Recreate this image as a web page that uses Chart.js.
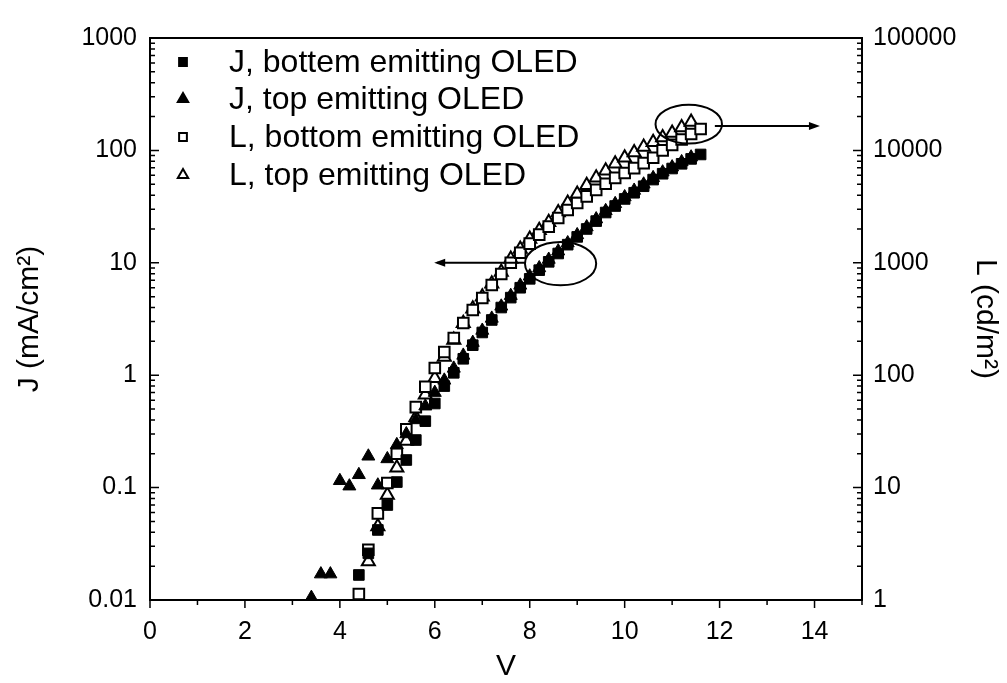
<!DOCTYPE html>
<html>
<head>
<meta charset="utf-8">
<script src="https://cdn.jsdelivr.net/npm/chart.js@4.4.0/dist/chart.umd.min.js"></script>
<style>
html,body{margin:0;padding:0;background:#fff;}
#wrap{width:1007px;height:683px;position:relative;}
</style>
</head>
<body>
<div id="wrap"><canvas id="myChart"></canvas></div>
<script>
// J (mA/cm2), bottom emitting
var vJBottom = [4.4,4.6,4.8,5.0,5.2,5.4,5.6,5.8,6.0,6.2,6.4,6.6,6.8,7.0,7.2,7.4,7.6,7.8,8.0,8.2,8.4,8.6,8.8,9.0,9.2,9.4,9.6,9.8,10.0,10.2,10.4,10.6,10.8,11.0,11.2,11.4,11.6];
var jBottom = [0.0167,0.026,0.042,0.07,0.112,0.176,0.265,0.39,0.56,0.8,1.05,1.4,1.85,2.4,3.1,4.0,4.9,6.0,7.2,8.6,10.2,12.1,14.5,17,20,23.5,28,32,37,42,48,55,62,69,76,84,92];

// J (mA/cm2), top emitting
var vJTop = [3.4,3.6,3.8,4.0,4.2,4.4,4.6,4.8,5.0,5.2,5.4,5.6,5.8,6.0,6.2,6.4,6.6,6.8,7.0,7.2,7.4,7.6,7.8,8.0,8.2,8.4,8.6,8.8,9.0,9.2,9.4,9.6,9.8,10.0,10.2,10.4,10.6,10.8,11.0,11.2,11.4];
var jTop = [0.0105,0.017,0.017,0.115,0.103,0.13,0.19,0.105,0.18,0.24,0.3,0.4,0.53,0.7,0.9,1.15,1.5,1.95,2.5,3.2,4.1,5.1,6.3,7.6,9.0,10.7,12.7,15,17.7,20.8,24.5,29,33.5,38.5,44,50,57,64,71,79,87];

// L (cd/m2), bottom emitting
var vLBottom = [4.4,4.6,4.8,5.0,5.2,5.4,5.6,5.8,6.0,6.2,6.4,6.6,6.8,7.0,7.2,7.4,7.6,7.8,8.0,8.2,8.4,8.6,8.8,9.0,9.2,9.4,9.6,9.8,10.0,10.2,10.4,10.6,10.8,11.0,11.2,11.4,11.6];
var lBottom = [1.13,2.8,5.9,11,20,33,52,79,116,161,214,291,380,486,634,794,1000,1230,1480,1780,2100,2500,2950,3400,3900,4450,5050,5700,6300,6950,7700,8600,10000,11200,12500,14000,15500];

// L (cd/m2), top emitting
var vLTop = [4.6,4.8,5.0,5.2,5.4,5.6,5.8,6.0,6.2,6.4,6.6,6.8,7.0,7.2,7.4,7.6,7.8,8.0,8.2,8.4,8.6,8.8,9.0,9.2,9.4,9.6,9.8,10.0,10.2,10.4,10.6,10.8,11.0,11.2,11.4];
var lTop = [2.2,4.5,8.6,15,26,42,67,94,145,206,290,390,500,650,830,1080,1330,1630,1950,2300,2800,3400,4100,4900,5700,6600,7600,8600,9600,10700,11800,13000,14300,16000,17900];

var legendLabels = ['J, bottem emitting OLED','J, top emitting OLED','L, bottom emitting OLED','L, top emitting OLED'];
var xTicks = [0,2,4,6,8,10,12,14];
var jTicks = [0.01,0.1,1,10,100,1000];
var jTickLabels = ['0.01','0.1','1','10','100','1000'];
var lTicks = [1,10,100,1000,10000,100000];
var lTickLabels = ['1','10','100','1000','10000','100000'];

function pts(xs, ys){
  var out = [];
  for (var i = 0; i < xs.length; i++) out.push({x: xs[i], y: ys[i]});
  return out;
}

var FONT = 'Liberation Sans, Arial, sans-serif';

// frame, ticks, arrows, legend
var decor = {
  id: 'decor',
  afterDatasetsDraw: function(chart){
    var ctx = chart.ctx;
    var a = chart.chartArea;
    var sx = chart.scales.x, sy = chart.scales.y, sy2 = chart.scales.y2;
    ctx.save();
    ctx.strokeStyle = '#000';
    ctx.lineWidth = 2;
    ctx.strokeRect(a.left, a.top, a.right - a.left, a.bottom - a.top);

    ctx.lineWidth = 1.5;
    ctx.beginPath();
    // x ticks (down)
    for (var v = 0; v <= 15; v++) {
      var px = sx.getPixelForValue(v);
      var len = (v % 2 == 0) ? 8 : 5;
      ctx.moveTo(px, a.bottom); ctx.lineTo(px, a.bottom + len);
    }
    // log ticks, inward
    for (var d = -2; d <= 3; d++) {
      for (var m = 1; m <= 9; m++) {
        var val = m * Math.pow(10, d);
        if (val > 1000.0001) break;
        var py = sy.getPixelForValue(val);
        var l = (m == 1) ? 9 : 5;
        ctx.moveTo(a.left, py); ctx.lineTo(a.left + l, py);
        var py2 = sy2.getPixelForValue(val * 100);
        ctx.moveTo(a.right, py2); ctx.lineTo(a.right - l, py2);
      }
    }
    ctx.stroke();

    // ellipses + arrows
    ctx.lineWidth = 2;
    function ell(x1, x2, y1, y2){
      var X1 = sx.getPixelForValue(x1), X2 = sx.getPixelForValue(x2);
      var Y1 = sy.getPixelForValue(y1), Y2 = sy.getPixelForValue(y2);
      ctx.beginPath();
      ctx.ellipse((X1+X2)/2, (Y1+Y2)/2, Math.abs(X2-X1)/2, Math.abs(Y2-Y1)/2, 0, 0, Math.PI*2);
      ctx.stroke();
    }
    function arrow(x1, x2, yv){
      var X1 = sx.getPixelForValue(x1), X2 = sx.getPixelForValue(x2), Y = sy.getPixelForValue(yv);
      ctx.beginPath(); ctx.moveTo(X1, Y); ctx.lineTo(X2, Y); ctx.stroke();
      var dir = X2 > X1 ? 1 : -1;
      ctx.beginPath();
      ctx.moveTo(X2 + dir*3, Y); ctx.lineTo(X2 - dir*8, Y - 4); ctx.lineTo(X2 - dir*8, Y + 4); ctx.closePath();
      ctx.fill();
    }
    ctx.fillStyle = '#000';
    ell(7.9, 9.4, 15.3, 6.3);
    arrow(7.9, 6.05, 10);
    ell(10.65, 12.05, 255, 115);
    arrow(11.9, 14.05, 165);

    // legend
    ctx.font = '32px ' + FONT;
    ctx.textBaseline = 'middle';
    ctx.textAlign = 'left';
    var rows = [62, 99, 137, 175];
    chart.data.datasets.forEach(function(ds, i){
      ctx.fillStyle = ds.backgroundColor;
      ctx.strokeStyle = ds.borderColor;
      ctx.lineWidth = 2;
      Chart.helpers.drawPoint(ctx, {pointStyle: ds.pointStyle, radius: ds.pointStyle == 'rect' ? 5.5 : 6, rotation: 0, borderWidth: 2}, 183, rows[i]);
      ctx.fillStyle = '#000';
      ctx.fillText(legendLabels[i], 229, rows[i] + 1);
    });
    ctx.restore();
  }
};

new Chart(document.getElementById('myChart'), {
  type: 'scatter',
  data: {
    datasets: [
      {label: legendLabels[0], data: pts(vJBottom, jBottom), yAxisID: 'y', pointStyle: 'rect', pointRadius: 7.5, backgroundColor: '#000', borderColor: '#000', borderWidth: 1},
      {label: legendLabels[1], data: pts(vJTop, jTop), yAxisID: 'y', pointStyle: 'triangle', pointRadius: 7.5, backgroundColor: '#000', borderColor: '#000', borderWidth: 1},
      {label: legendLabels[2], data: pts(vLBottom, lBottom), yAxisID: 'y2', pointStyle: 'rect', pointRadius: 7.5, backgroundColor: '#fff', borderColor: '#000', borderWidth: 2},
      {label: legendLabels[3], data: pts(vLTop, lTop), yAxisID: 'y2', pointStyle: 'triangle', pointRadius: 7.5, backgroundColor: '#fff', borderColor: '#000', borderWidth: 2}
    ]
  },
  options: {
    responsive: true,
    maintainAspectRatio: false,
    animation: false,
    layout: {padding: {top: 38, left: 0, right: 0, bottom: 0}},
    plugins: {legend: {display: false}, tooltip: {enabled: false}},
    scales: {
      x: {
        type: 'linear', min: 0, max: 15,
        grid: {display: false, drawTicks: false}, border: {display: false},
        afterBuildTicks: function(s){ s.ticks = xTicks.map(function(v){ return {value: v}; }); },
        afterFit: function(s){ s.height = 83; },
        ticks: {color: '#000', font: {size: 25, family: FONT}, padding: 17, maxRotation: 0},
        title: {display: true, text: 'V', color: '#000', font: {size: 30, family: FONT}, padding: {top: 0, bottom: -2}}
      },
      y: {
        type: 'logarithmic', position: 'left', min: 0.01, max: 1000,
        grid: {display: false, drawTicks: false}, border: {display: false},
        afterBuildTicks: function(s){ s.ticks = jTicks.map(function(v){ return {value: v}; }); },
        afterFit: function(s){ s.width = 150; },
        ticks: {color: '#000', font: {size: 25, family: FONT}, padding: 13,
          callback: function(v){ var i = jTicks.indexOf(v); return i >= 0 ? jTickLabels[i] : ''; }},
        title: {display: true, text: 'J (mA/cm²)', color: '#000', font: {size: 30, family: FONT}, padding: {top: 12, bottom: 0}}
      },
      y2: {
        type: 'logarithmic', position: 'right', min: 1, max: 100000,
        grid: {display: false, drawTicks: false}, border: {display: false},
        afterBuildTicks: function(s){ s.ticks = lTicks.map(function(v){ return {value: v}; }); },
        afterFit: function(s){ s.width = 145; },
        ticks: {color: '#000', font: {size: 25, family: FONT}, padding: 11,
          callback: function(v){ var i = lTicks.indexOf(v); return i >= 0 ? lTickLabels[i] : ''; }},
        title: {display: true, text: 'L (cd/m²)', color: '#000', font: {size: 30, family: FONT}, padding: {top: 4, bottom: 0}}
      }
    }
  },
  plugins: [decor]
});
</script>
</body>
</html>
